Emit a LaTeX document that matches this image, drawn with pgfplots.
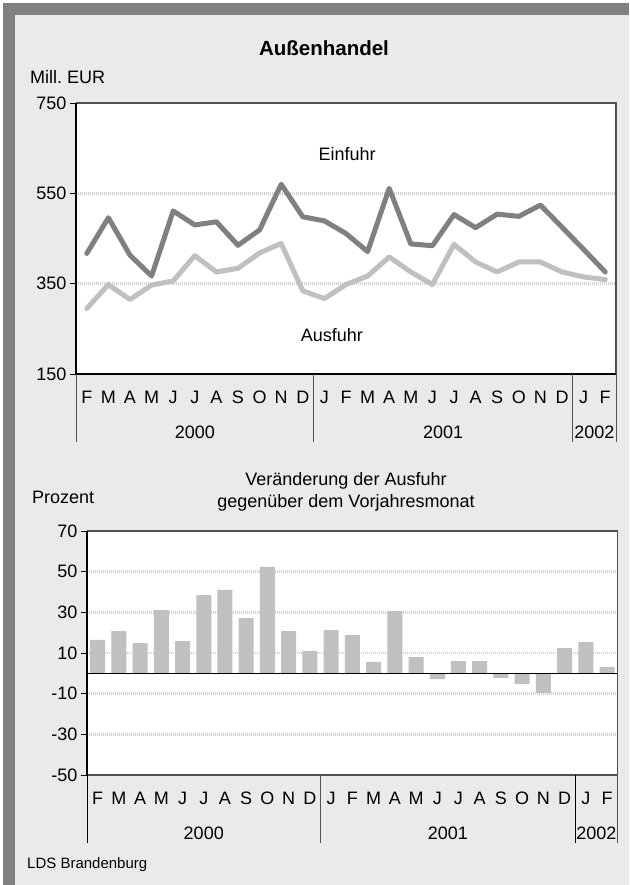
\documentclass[border=0pt]{standalone}
\usepackage{fontspec}
\setmainfont{Liberation Sans}
\usepackage{pgfplots}
\pgfplotsset{compat=1.18}
\definecolor{bgc}{HTML}{EAEAEA}
\definecolor{framec}{HTML}{808080}
\definecolor{einf}{HTML}{808080}
\definecolor{ausf}{HTML}{C0C0C0}
\definecolor{gridc}{HTML}{D0D0D0}
\definecolor{edge}{HTML}{505050}
\newcommand{\fs}{\fontsize{18}{22}\selectfont}

\pgfplotsset{
  lds/.style={
    scale only axis, xmin=-0.5, xmax=24.5,
    axis background/.style={fill=white},
    axis line style={draw=none},
    xtick={0,...,24},
    xticklabels={F,M,A,M,J,J,A,S,O,N,D,J,F,M,A,M,J,J,A,S,O,N,D,J,F},
    xtick style={draw=none},
    ytick style={black,line width=1pt},
    tick align=outside, major tick length=6pt,
    ytick pos=left, xtick pos=bottom,
    ymajorgrids, major grid style={gridc,line width=2.5pt,dash pattern=on 1pt off 1pt},
    tick label style={font=\fs},
    xticklabel style={anchor=center,yshift=-17pt},
    /pgf/number format/assume math mode=true,
    clip mode=individual,
  }
}

\begin{document}
\begin{tikzpicture}
\useasboundingbox (0,0) rectangle (629pt,-885pt);
\fill[bgc] (0,0) rectangle (629pt,-885pt);
\fill[white] (0,0) rectangle (629pt,-3pt);
\fill[white] (0,0) rectangle (3pt,-885pt);
\fill[framec] (3pt,-3pt) rectangle (629pt,-15pt);
\fill[framec] (3pt,-3pt) rectangle (15pt,-885pt);

\node[font=\fontsize{20.5}{24}\selectfont\bfseries] at (324pt,-48pt) {Außenhandel};
\node[anchor=west,inner sep=0pt,font=\fs] at (30pt,-77pt) {Mill.\ EUR};

% Aussenhandel, Mill. EUR
\begin{axis}[lds, at={(76pt,-374pt)}, anchor=south west,
  width=540pt, height=271pt,
  ymin=150, ymax=750, ytick={150,350,550,750}]
\addplot[einf,line width=5pt,line join=round,line cap=round,no marks] coordinates {
(0,417) (1,496) (2,413) (3,367) (4,511) (5,480) (6,487) (7,435) (8,469) (9,570) (10,498)
(11,489) (12,461) (13,421) (14,561) (15,438) (16,434) (17,503) (18,474) (19,504) (20,499) (21,524) (22,475)
(23,426) (24,376)};
\addplot[ausf,line width=5pt,line join=round,line cap=round,no marks] coordinates {
(0,295) (1,348) (2,315) (3,347) (4,356) (5,412) (6,376) (7,384) (8,418) (9,439) (10,334)
(11,317) (12,348) (13,367) (14,409) (15,376) (16,348) (17,437) (18,398) (19,376) (20,398) (21,398) (22,376)
(23,365) (24,359)};
\draw[edge,line width=1.5pt] (rel axis cs:0,1) -- (rel axis cs:1,1) -- (rel axis cs:1,0);
\draw[black,line width=2pt] (rel axis cs:0,1) -- (rel axis cs:0,0) -- (rel axis cs:1,0);
\draw[edge,line width=1pt] (axis cs:-0.5,150) -- ([yshift=-68pt]axis cs:-0.5,150);
\draw[edge,line width=1pt] (axis cs:10.5,150) -- ([yshift=-68pt]axis cs:10.5,150);
\draw[edge,line width=1pt] (axis cs:22.5,150) -- ([yshift=-68pt]axis cs:22.5,150);
\draw[edge,line width=1pt] (axis cs:24.5,150) -- ([yshift=-68pt]axis cs:24.5,150);
\node[font=\fs,yshift=-58pt] at (axis cs:5,150) {2000};
\node[font=\fs,yshift=-58pt] at (axis cs:16.5,150) {2001};
\node[font=\fs,yshift=-58pt] at (axis cs:23.5,150) {2002};
\node[font=\fs] at (axis cs:12.05,636) {Einfuhr};
\node[font=\fs] at (axis cs:11.35,236) {Ausfuhr};
\end{axis}

\node[anchor=west,inner sep=0pt,font=\fs] at (32pt,-497pt) {Prozent};
\node[align=center,font=\fs] at (346pt,-492pt) {Veränderung der Ausfuhr\\gegenüber dem Vorjahresmonat};

% Veraenderung der Ausfuhr, Prozent
\begin{axis}[lds, at={(87pt,-775pt)}, anchor=south west,
  width=530.7pt, height=244pt,
  ymin=-50, ymax=70, ytick={-50,-30,-10,10,30,50,70},
  ybar, bar width=15pt]
\addplot[fill=ausf,draw=none] coordinates {
(0,16.4) (1,20.8) (2,14.9) (3,31.1) (4,15.9) (5,38.5) (6,41) (7,27.2) (8,52.3) (9,20.8) (10,11)
(11,21.3) (12,18.8) (13,5.6) (14,30.6) (15,8) (16,-2.8) (17,6) (18,6) (19,-2.2) (20,-5.3) (21,-9.7) (22,12.4)
(23,15.4) (24,3.1)};
\draw[edge,line width=1.5pt] (rel axis cs:0,1) -- (rel axis cs:1,1) -- (rel axis cs:1,0) -- (rel axis cs:0,0);
\draw[black,line width=1.5pt] (axis cs:-0.5,0) -- (axis cs:24.5,0);
\draw[black,line width=1.5pt] (rel axis cs:0,1) -- (rel axis cs:0,0);
\draw[black,line width=1pt] (axis cs:-0.5,-50) -- ([yshift=-68pt]axis cs:-0.5,-50);
\draw[edge,line width=1pt] (axis cs:10.5,-50) -- ([yshift=-68pt]axis cs:10.5,-50);
\draw[black,line width=1pt] (axis cs:22.5,-50) -- ([yshift=-68pt]axis cs:22.5,-50);
\draw[edge,line width=1pt] (axis cs:24.5,-50) -- ([yshift=-68pt]axis cs:24.5,-50);
\node[font=\fs,yshift=-58pt] at (axis cs:5,-50) {2000};
\node[font=\fs,yshift=-58pt] at (axis cs:16.5,-50) {2001};
\node[font=\fs,yshift=-58pt] at (axis cs:23.5,-50) {2002};
\end{axis}

\node[anchor=west,inner sep=0pt,font=\fontsize{15}{18}\selectfont] at (27pt,-865pt) {LDS Brandenburg};
\end{tikzpicture}
\end{document}
